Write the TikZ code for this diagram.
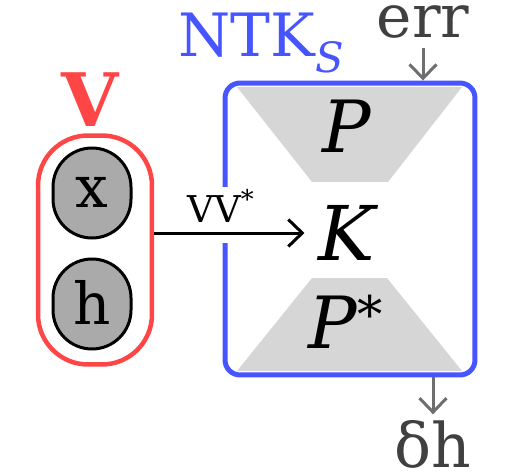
\documentclass[tikz,border=0pt]{standalone}
\usepackage{fontspec}
\setmainfont{DejaVu Serif}
\usetikzlibrary{arrows.meta}
\definecolor{vred}{RGB}{255,70,70}
\definecolor{ntkblue}{RGB}{70,85,255}
\definecolor{trapgray}{RGB}{214,214,214}
\definecolor{varfill}{RGB}{170,170,170}
\definecolor{iotext}{RGB}{64,64,64}
\definecolor{ioarrow}{RGB}{110,110,110}
\newcommand{\fsz}[1]{\fontsize{#1}{#1}\selectfont}

\begin{document}
\begin{tikzpicture}[x=0.02cm,y=-0.02cm,>={Straight Barb[length=0.28cm,width=0.54cm]},
    varoval/.style={draw,line width=0.06cm,fill=varfill},
    txt/.style={inner sep=0pt,anchor=base},
    ]
        \useasboundingbox (0,0) rectangle (510,476);
        % the two variables, drawn as ovals
        \path[varoval] (53,187) arc[start angle=180,end angle=360,radius=39] -- (131,199) arc[start angle=0,end angle=180,radius=39] -- cycle;
        \path[varoval] (53,298) arc[start angle=180,end angle=360,radius=39] -- (131,310) arc[start angle=0,end angle=180,radius=39] -- cycle;
        \node[font=\fsz{33}] (x) at (92,192) {x};
        \node[font=\fsz{33}] (h) at (92,302) {h};
        \node[draw=vred,line width=0.09cm,rounded corners=1cm,minimum width=2.28cm,minimum height=4.58cm] (Vbox) at (95,250) {};
        \node[txt,text=vred,font=\fsz{42}\bfseries] (V) at (90,127) {V};
        % projections inside the kernel box
        \fill[trapgray] (237,87) -- (462,87) -- (388,182) -- (312,182) -- cycle;
        \fill[trapgray] (312,278) -- (387,278) -- (462,371) -- (237,371) -- cycle;
        \node[draw=ntkblue,line width=0.1cm,rounded corners=0.3cm,minimum width=5cm,minimum height=5.84cm] (NTK) at (350,229) {};
        \node[txt,anchor=base west,text=ntkblue,font=\fsz{34}] (NTKlbl) at (178,57) {NTK\textsubscript{\itshape S}};
        \node[txt,font=\fsz{41}\itshape] (P) at (347,153) {P};
        \node[font=\fsz{43}\itshape,inner sep=0.28cm] (K) at (347,233) {K};
        \node[txt,font=\fsz{41}\itshape] (Ps) at (346,348) {P\textsuperscript{\upshape *}};
        \node[txt,font=\fsz{21},fill=white,text height=0.7cm,text depth=0.42cm] (VV) at (221,222) {VV\textsuperscript{*}};
        \draw[->,line width=0.06cm] (Vbox.east |- K.west) -- (K.west);
        \node[txt,text=iotext,font=\fsz{34}] (err) at (423,38) {err};
        \node[txt,text=iotext,font=\fsz{35},inner sep=3pt] (dh) at (433,467) {δh};
        \draw[->,ioarrow,line width=0.06cm,shorten <=5pt] (err.south) -- (err.south |- NTK.north);
        \draw[->,ioarrow,line width=0.06cm] (NTK.south -| dh.north) -- (dh.north);
\end{tikzpicture}
\end{document}
